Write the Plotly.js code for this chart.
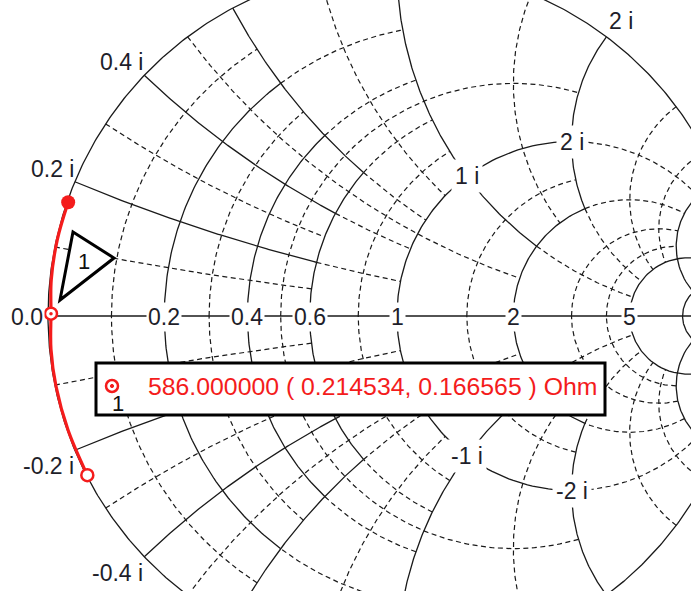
<!DOCTYPE html>
<html><head><meta charset="utf-8">
<script src="https://cdn.plot.ly/plotly-3.0.1.min.js"></script>
<style>html,body{margin:0;padding:0;background:#fff;overflow:hidden}#chart{width:691px;height:591px}</style>
</head><body><div id="chart"></div>
<script>
// ---------------- data (impedance in Ohm, bottom -> top) ----------------
const Z0 = 50;
const traceR = [0.06, 0.06, 0.06, 0.1, 0.2145, 0.1, 0.06, 0.08];
const traceX = [-12.1, -8.4, -5.1, -2.4, 0.1666, 2.6, 5.5, 8.4];
const markerLabel = "1";
const markerIndep = 586.0;
const markerR = 0.214534;
const markerX = 0.166565;

// ---------------- tick labels ----------------
const realTicks = [0, 0.2, 0.4, 0.6, 1, 2, 5];
const rimTicks = [0.2, 0.4, 2, -0.2, -0.4];
const innerTicks = [1, 2, -1, -2];

// ---------------- grid definition ----------------
const gridValues = [0.1, 0.2, 0.3, 0.4, 0.5, 0.6, 0.8, 1, 1.5, 2, 3, 4, 5, 10];
const solidGroups = [[0.2, 0.4, 0.6], [1, 2], [5, 10]];
const dashSets = [
  {vals: [0.1, 0.2, 0.3, 0.4, 0.5, 0.6], lim: 0.6},
  {vals: [0.2, 0.4, 0.6, 0.8, 1], lim: 1},
  {vals: [0.5, 1, 1.5, 2], lim: 2},
  {vals: [1, 2, 3, 4, 5], lim: 5},
  {vals: [5, 10], lim: 10}
];

// pixel geometry of the chart
const CX = 397, CY = 316, RAD = 349, W = 691, H = 591;

function gam(r, x) { const d = (r + 1) * (r + 1) + x * x; return [(r * r + x * x - 1) / d, 2 * x / d]; }
function P(px, py) { return [(px - CX) / RAD, (CY - py) / RAD]; }

const solid = {x: [], y: []}, dashed = {x: [], y: []};
function push(tgt, pts) { pts.forEach(p => { tgt.x.push(p[0]); tgt.y.push(p[1]); }); tgt.x.push(null); tgt.y.push(null); }
function rCircle(r, x0, x1) {
  const a = Math.atan(x0), b = Math.atan(x1), n = 160, pts = [];
  for (let i = 0; i <= n; i++) pts.push(gam(r, Math.tan(a + (b - a) * i / n)));
  return pts;
}
function xArc(x, r0, r1) {
  const a = Math.atan(r0), b = Math.atan(r1), n = 160, pts = [];
  for (let i = 0; i <= n; i++) pts.push(gam(Math.tan(a + (b - a) * i / n), x));
  return pts;
}
(function () {
  const pts = [];
  for (let i = 0; i <= 720; i++) { const t = 2 * Math.PI * i / 720; pts.push([Math.cos(t), Math.sin(t)]); }
  push(solid, pts);
  push(solid, [[-1, 0], [1, 0]]);
})();
gridValues.forEach(v => {
  let sl = 0;
  solidGroups.forEach(g => { if (g.includes(v)) sl = Math.max(...g); });
  let dl = 0;
  dashSets.forEach(s => { if (s.vals.includes(v)) dl = Math.max(dl, s.lim); });
  if (sl > 0) {
    push(solid, rCircle(v, -sl, sl));
    push(solid, xArc(v, 0, sl));
    push(solid, xArc(-v, 0, sl));
  }
  if (dl > sl) {
    push(dashed, rCircle(v, sl, dl));
    push(dashed, rCircle(v, -dl, -sl));
    push(dashed, xArc(v, sl, dl));
    push(dashed, xArc(-v, sl, dl));
  }
});

const curve = traceR.map((r, i) => gam(r / Z0, traceX[i] / Z0));
const mk = gam(markerR / Z0, markerX / Z0);
const RED = '#f41c1c';

const traces = [
  {x: dashed.x, y: dashed.y, mode: 'lines', line: {color: '#1a1a1a', width: 1.2, dash: '5px,3.5px'}, hoverinfo: 'skip'},
  {x: solid.x, y: solid.y, mode: 'lines', line: {color: '#1a1a1a', width: 1.3}, hoverinfo: 'skip'},
  {x: curve.map(p => p[0]), y: curve.map(p => p[1]), mode: 'lines', line: {color: RED, width: 3.2, shape: 'spline'}},
  {x: [curve[0][0]], y: [curve[0][1]], mode: 'markers', marker: {symbol: 'circle', size: 12, color: 'white', line: {color: RED, width: 2.5}}},
  {x: [curve[curve.length - 1][0]], y: [curve[curve.length - 1][1]], mode: 'markers', marker: {symbol: 'circle', size: 14, color: RED, line: {width: 0}}},
  {x: [mk[0]], y: [mk[1]], mode: 'markers', marker: {symbol: 'circle', size: 12, color: 'white', line: {color: RED, width: 2.5}}},
  {x: [mk[0]], y: [mk[1]], mode: 'markers', marker: {symbol: 'circle', size: 3.5, color: RED, line: {width: 0}}}
];

const FONT = 'Liberation Sans, Arial, sans-serif';
const TXT = '#1e1e2a';
const ann = [];
realTicks.forEach(v => {
  const g = gam(v, 0);
  ann.push({x: g[0], y: g[1], xref: 'x', yref: 'y', text: v === 0 ? '0.0' : String(v), showarrow: false,
    xanchor: v === 0 ? 'right' : 'center', yanchor: 'middle', xshift: v === 0 ? -3 : 0, yshift: -1,
    bgcolor: 'white', borderpad: 1, font: {family: FONT, size: 23, color: TXT}});
});
rimTicks.forEach(v => {
  const g = gam(0, v);
  ann.push({x: g[0], y: g[1], xref: 'x', yref: 'y', text: v + ' i', showarrow: false,
    xanchor: g[0] < 0 ? 'right' : 'left', yanchor: 'middle', xshift: 1, yshift: v > 0 ? (g[0] < 0 ? 13 : 16) : -16,
    font: {family: FONT, size: 23, color: TXT}});
});
innerTicks.forEach(v => {
  const g = gam(1, v);
  ann.push({x: g[0], y: g[1], xref: 'x', yref: 'y', text: v + ' i', showarrow: false,
    xanchor: 'center', yanchor: 'middle', bgcolor: 'white', borderpad: 3,
    font: {family: FONT, size: 23, color: TXT}});
});
const bc = P(112, 386);
const b1 = P(118, 403);
const bt = P(146, 386);
ann.push({x: b1[0], y: b1[1], xref: 'x', yref: 'y', text: markerLabel, showarrow: false, xanchor: 'center', yanchor: 'middle',
  font: {family: FONT, size: 22, color: '#111'}});
ann.push({x: bt[0], y: bt[1], xref: 'x', yref: 'y', showarrow: false, xanchor: 'left', yanchor: 'middle',
  text: markerIndep.toFixed(6) + ' ( ' + markerR.toFixed(6) + ', ' + markerX.toFixed(6) + ' ) Ohm',
  font: {family: FONT, size: 24.8, color: RED}});
const t1 = P(84, 261);
ann.push({x: t1[0], y: t1[1], xref: 'x', yref: 'y', text: markerLabel, showarrow: false, xanchor: 'center', yanchor: 'middle',
  font: {family: FONT, size: 22, color: '#111'}});

const boxA = P(96, 363), boxB = P(605, 415);
const tA = P(73, 232), tB = P(114, 258), tC = P(60, 300);
const shapes = [
  {type: 'rect', xref: 'x', yref: 'y', x0: boxA[0], y0: boxB[1], x1: boxB[0], y1: boxA[1], line: {color: '#000', width: 3}, fillcolor: 'white', layer: 'above'},
  {type: 'path', xref: 'x', yref: 'y', path: `M ${tA[0]},${tA[1]} L ${tB[0]},${tB[1]} L ${tC[0]},${tC[1]} Z`, line: {color: '#000', width: 3}, fillcolor: 'white', layer: 'above'},
  {type: 'circle', xref: 'x', yref: 'y', x0: bc[0] - 6 / RAD, x1: bc[0] + 6 / RAD, y0: bc[1] - 6 / RAD, y1: bc[1] + 6 / RAD, line: {color: RED, width: 2.5}, fillcolor: 'white', layer: 'above'},
  {type: 'circle', xref: 'x', yref: 'y', x0: bc[0] - 1.6 / RAD, x1: bc[0] + 1.6 / RAD, y0: bc[1] - 1.6 / RAD, y1: bc[1] + 1.6 / RAD, line: {color: RED, width: 1}, fillcolor: RED, layer: 'above'}
];

const layout = {
  width: W, height: H, margin: {l: 0, r: 0, t: 0, b: 0},
  paper_bgcolor: 'white', plot_bgcolor: 'white', showlegend: false,
  xaxis: {range: [-CX / RAD, (W - CX) / RAD], visible: false, fixedrange: true},
  yaxis: {range: [(CY - H) / RAD, CY / RAD], visible: false, fixedrange: true},
  annotations: ann, shapes: shapes
};
Plotly.newPlot('chart', traces, layout, {staticPlot: true, displayModeBar: false});
</script>
</body></html>
